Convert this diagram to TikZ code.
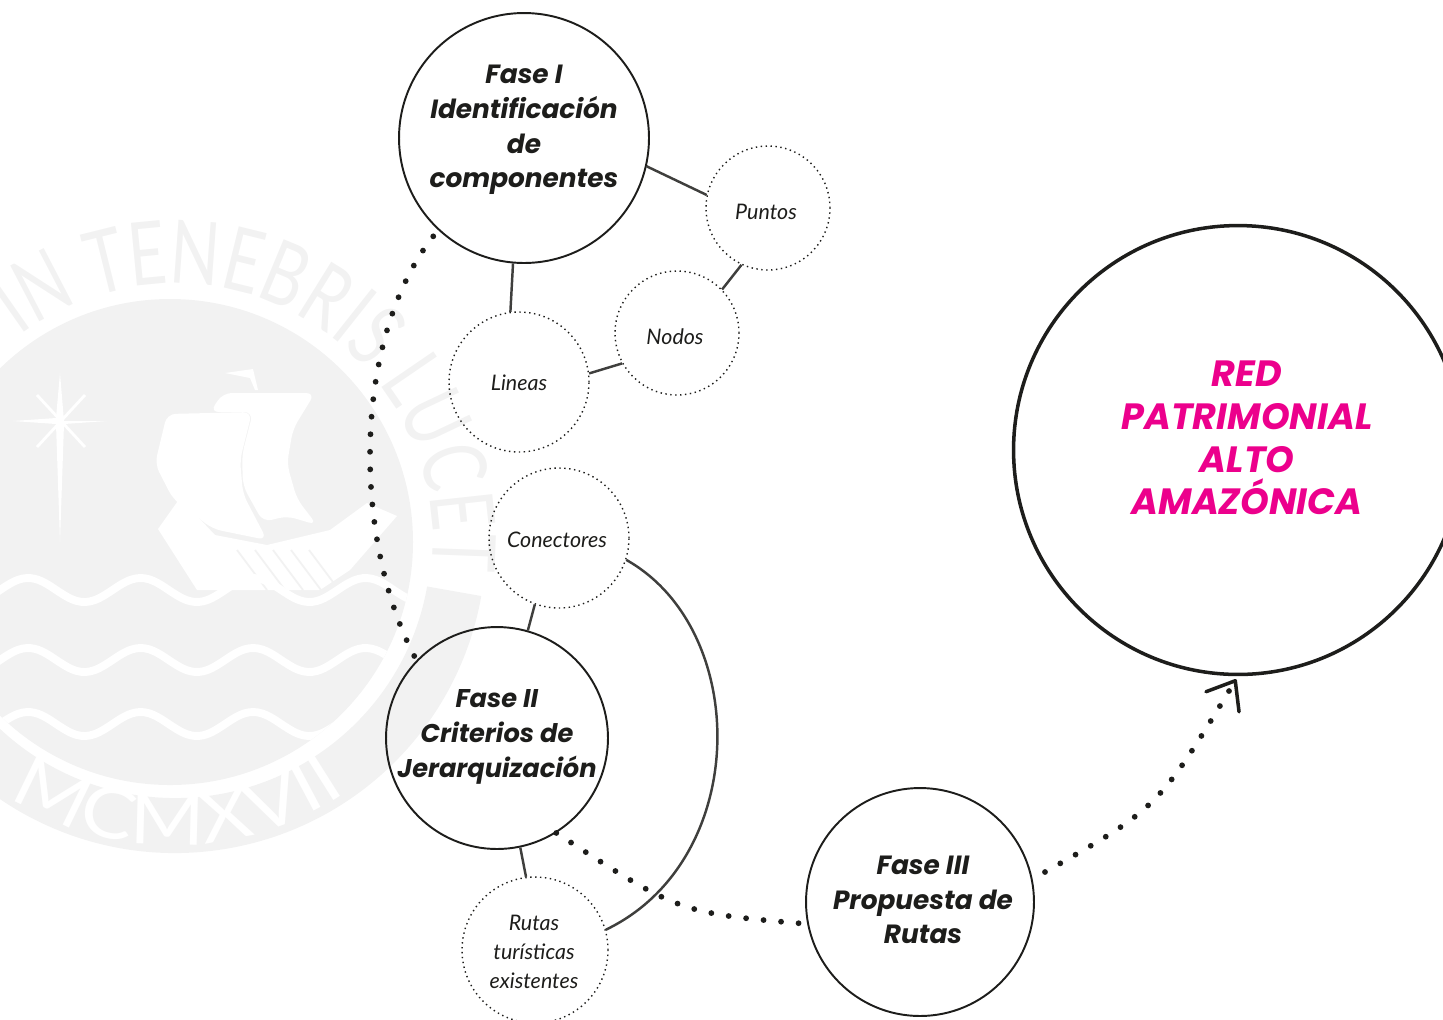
\documentclass[tikz,border=0pt]{standalone}
\usepackage{fontspec}
\usetikzlibrary{arrows.meta,decorations.text}
\setmainfont{Lato}
\newfontfamily\fasefont{Poppins}
\newfontfamily\sealfont[FakeStretch=0.74]{Lato}
\newfontfamily\sealwide[FakeStretch=1.15]{Lato}
\definecolor{sealgray}{HTML}{F2F2F2}
\definecolor{inkblack}{HTML}{1D1D1B}
\definecolor{redpink}{HTML}{EC008C}
\tikzset{
  fase/.style={circle,draw=inkblack,line width=1.1pt,inner sep=0pt},
  fasetext/.style={align=center,text=inkblack,font=\fasefont\bfseries\itshape\fontsize{15}{19.8}\selectfont},
  redtext/.style={align=center,text=redpink,font=\fasefont\bfseries\itshape\fontsize{20.8}{24.3}\selectfont},
  comp/.style={circle,draw=inkblack,line width=0.8pt,dotted,inner sep=0pt},
  comptext/.style={align=center,text=inkblack,font=\itshape\fontsize{12.2}{16.6}\selectfont},
  link/.style={draw=inkblack!85,line width=1.4pt},
  route/.style={draw=inkblack,line width=3.3pt,line cap=round,dash pattern=on 0pt off 10pt},
}
\begin{document}
\begin{tikzpicture}[x=0.02cm,y=0.02cm]
\useasboundingbox (0,0) rectangle (1443,-1019);

% Seal
\fill[sealgray] (170,-542) circle[radius=243];
\fill[sealgray] (175,-542)++(-10:256) arc[start angle=-10,end angle=-170,radius=256]
  -- ++(-170:55) arc[start angle=-170,end angle=-10,radius=311] -- cycle;
\path[decorate,decoration={text along path,text align={left indent=0pt},
    text={|\sealfont\fontsize{50}{50}\selectfont\color{sealgray}|IN TENEBRIS LUCET}}]
  (175,-542)++(127:258) arc[start angle=127,end angle=-30,radius=258];
\path[decorate,decoration={text along path,text align={left indent=0pt},
    text={|\sealwide\fontsize{40}{40}\selectfont\color{white}|MCMXVII}}]
  (175,-542)++(-123:303) arc[start angle=-123,end angle=-30,radius=303];

% Star
\fill[white] (60,-373) -- (64,-421) -- (107,-421) -- (64,-424) -- (60,-542) -- (56,-424) -- (13,-421) -- (56,-418) -- cycle;
\draw[white,line width=1.6pt] (37,-447) -- (85,-395) (37,-395) -- (85,-447);

% Ship
\fill[white,rounded corners=5pt] (167,-414) -- (252,-412) -- (240,-460) -- (243,-494) -- (267,-540) -- (213,-529) -- (173,-499) -- (155,-464) -- cycle;
\fill[white,rounded corners=5pt] (210,-412) -- (223,-393) -- (315,-393) -- (293,-429) -- (287,-464) -- (297,-499) -- (317,-525) -- (287,-516) -- (263,-522) -- (243,-486) -- (242,-455) -- (253,-412) -- cycle;
\fill[white] (225,-373) -- (253,-369) -- (258,-390) -- (255,-390) -- (250,-378) -- cycle;
\fill[white] (158,-529) -- (180,-498) -- (215,-535) -- (267,-545) -- (330,-530) -- (367,-503) -- (397,-516) -- (350,-570) -- (320,-590) -- (197,-590) -- cycle;
\foreach \x in {237,255,273,291,309} {
  \draw[sealgray,line width=1pt] (\x,-550) -- (\x+30,-590);
}

% Waves
\begin{scope}
\clip (170,-542) circle[radius=243];
\foreach \y in {-590,-660,-724} {
  \draw[white,line width=4.5pt,line cap=round] plot[domain=-70:430,samples=120,smooth] (\x,{\y+12*sin(\x*3.2)});
}
\end{scope}

% Phases
\node[fase,minimum size=5cm,label={[fasetext,shift={(0,8)}]center:Fase I\\Identificación\\de\\componentes}] (fase1) at (524,-138) {};
\node[fase,minimum size=4.44cm,label={[fasetext,font=\fasefont\bfseries\itshape\fontsize{14.6}{19.8}\selectfont,shift={(0,1)}]center:Fase II\\Criterios de\\Jerarquización}] (fase2) at (497,-738) {};
\node[fase,minimum size=4.56cm,label={[fasetext,shift={(3,2)}]center:Fase III\\Propuesta de\\Rutas}] (fase3) at (920,-902) {};
\node[fase,line width=2pt,minimum size=8.98cm,label={[redtext,shift={(9,12)}]center:RED\\PATRIMONIAL\\ALTO\\AMAZÓNICA}] (red) at (1238,-450) {};

% Components
\node[comp,minimum size=2.48cm,label={[comptext,shift={(-2,-4)}]center:Puntos}] (puntos) at (768,-208) {};
\node[comp,minimum size=2.48cm,label={[comptext,shift={(-2,-4)}]center:Nodos}] (nodos) at (677,-333) {};
\node[comp,minimum size=2.8cm,label={[comptext,shift={(0,-1)}]center:Lineas}] (lineas) at (519,-382) {};
\node[comp,minimum size=2.8cm,label={[comptext,shift={(-2,-2)}]center:Conectores}] (conectores) at (559,-538) {};
\node[comp,minimum size=2.92cm,label={[comptext,shift={(-1,-2)}]center:Rutas\\turísticas\\existentes}] (rutas) at (535,-950) {};

% Links
\draw[link] (fase1.-13) -- (puntos.168);
\draw[link] (fase1.-95) -- (lineas.97);
\draw[link] (lineas.7) -- (nodos.209);
\draw[link] (nodos.44) -- (puntos.-115);
\draw[link] (conectores.-110) -- (fase2.74);
\draw[link] (fase2.-78) -- (rutas.97);
\draw[link] (conectores.-18) .. controls (751,-630) and (751,-860) .. (rutas.16);

% Routes
\coordinate (f3out) at (1045,-872);
\draw[route,shorten <=4.5pt] (fase1.227) .. controls (352,-340) and (352,-540) .. (fase2.136);
\draw[route] (fase2.-58) .. controls (679,-913) .. (fase3.191);
\draw[route,-{Straight Barb[length=14pt,width=22pt,line width=2pt,round]},shorten >=2pt] (f3out) .. controls (1158,-808) .. (red.-90);
\end{tikzpicture}
\end{document}
